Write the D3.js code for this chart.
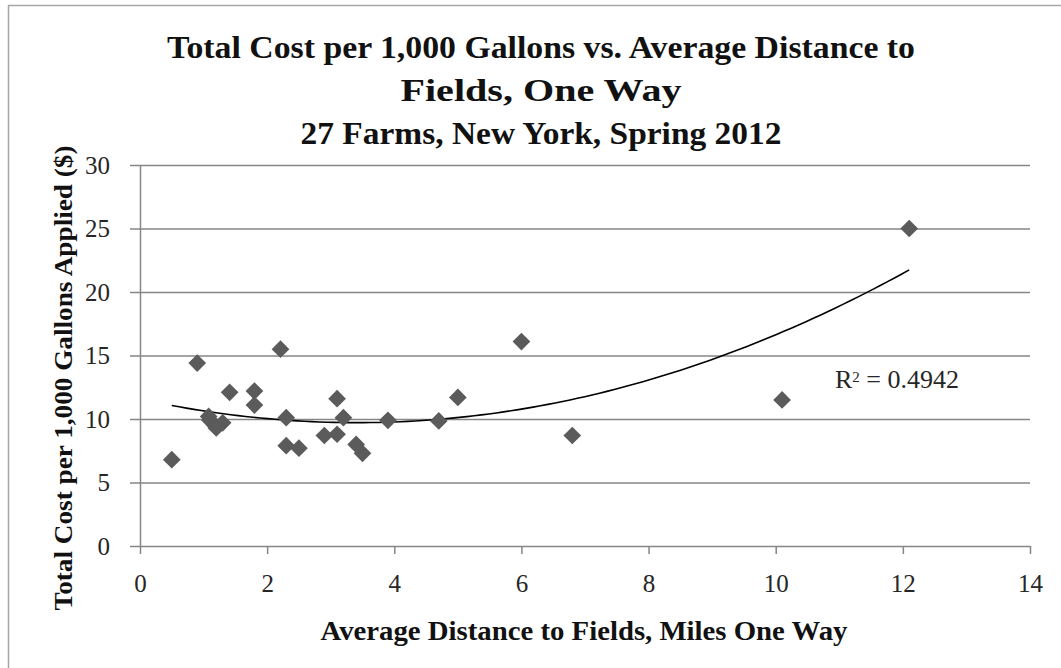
<!DOCTYPE html>
<html>
<head>
<meta charset="utf-8">
<script src="https://cdn.jsdelivr.net/npm/d3@7"></script>
<style>
  body { margin: 0; background: #fff; }
  svg { display: block; }
</style>
</head>
<body>
<div id="chart"></div>
<script>
(function() {
    const width = 1061;
    const height = 668;
    const margin = { top: 165, right: 31, bottom: 122, left: 140 };

    // Distance (miles one way) and cost per 1,000 gallons
    const distance = [0.5, 0.9, 1.08, 1.1, 1.18, 1.2, 1.3, 1.41, 1.8, 1.8, 2.21, 2.3, 2.3, 2.5, 2.9, 3.1, 3.1, 3.2, 3.4, 3.5, 3.9, 4.7, 5.0, 6.0, 6.8, 10.1, 12.1];
    const cost     = [6.8, 14.4, 10.2, 9.9, 9.5, 9.3, 9.7, 12.1, 12.2, 11.1, 15.5, 10.1, 7.9, 7.7, 8.7, 11.6, 8.8, 10.1, 8.0, 7.3, 9.9, 9.85, 11.7, 16.1, 8.7, 11.5, 25.0];

    const xTicks = [0, 2, 4, 6, 8, 10, 12, 14];
    const yTicks = [0, 5, 10, 15, 20, 25, 30];
    const titleLines = [
        "Total Cost per 1,000 Gallons vs. Average Distance to",
        "Fields, One Way",
        "27 Farms, New York, Spring 2012"
    ];
    const xLabel = "Average Distance to Fields, Miles One Way";
    const yLabel = "Total Cost per 1,000 Gallons Applied ($)";
    const rSquared = "0.4942";

    const points = distance.map((d, i) => ({ x: d, y: cost[i] }));
    const serif = "'Liberation Serif', 'DejaVu Serif', serif";

    const svg = d3.select("#chart").append("svg")
        .attr("width", width).attr("height", height);

    // outer frame (cut off on the right/bottom in the original)
    svg.append("rect")
        .attr("x", 8.5).attr("y", 5.5)
        .attr("width", width + 20).attr("height", height + 20)
        .attr("fill", "none").attr("stroke", "#a6a6a6").attr("stroke-width", 1.5);

    const plotW = width - margin.left - margin.right;
    const plotH = height - margin.top - margin.bottom;

    const x = d3.scaleLinear().domain([0, 14]).range([margin.left, margin.left + plotW]);
    const y = d3.scaleLinear().domain([0, 30]).range([margin.top + plotH, margin.top]);

    // gridlines + y ticks
    const yAxis = svg.append("g")
        .attr("transform", `translate(${margin.left},0)`)
        .call(d3.axisLeft(y).tickValues(yTicks).tickSize(10).tickPadding(20).tickSizeOuter(0));
    yAxis.select(".domain").attr("stroke", "#868686").attr("stroke-width", 1.5);
    yAxis.selectAll(".tick line").attr("stroke", "#868686").attr("stroke-width", 1.5);
    yAxis.selectAll(".tick").append("line")
        .attr("x1", 0).attr("x2", plotW)
        .attr("stroke", "#868686").attr("stroke-width", 1.5);
    yAxis.selectAll(".tick text")
        .attr("font-family", serif)
        .attr("font-size", "25px").attr("fill", "#262626");

    const xAxis = svg.append("g")
        .attr("transform", `translate(0,${margin.top + plotH})`)
        .call(d3.axisBottom(x).tickValues(xTicks).tickSize(8).tickPadding(20).tickSizeOuter(0));
    xAxis.select(".domain").remove();
    xAxis.selectAll(".tick line").attr("stroke", "#868686").attr("stroke-width", 1.5);
    xAxis.selectAll(".tick text")
        .attr("font-family", serif)
        .attr("font-size", "25px").attr("fill", "#262626");

    // quadratic least-squares trendline computed from the points
    const n = points.length;
    const s = k => d3.sum(points, p => Math.pow(p.x, k));
    const sy = k => d3.sum(points, p => Math.pow(p.x, k) * p.y);
    const A = [[n, s(1), s(2)], [s(1), s(2), s(3)], [s(2), s(3), s(4)]];
    const B = [sy(0), sy(1), sy(2)];
    function solve3(M, v) {
        const m = M.map((r, i) => r.concat([v[i]]));
        for (let c = 0; c < 3; c++) {
            for (let r = c + 1; r < 3; r++) {
                const f = m[r][c] / m[c][c];
                for (let k = c; k < 4; k++) m[r][k] -= f * m[c][k];
            }
        }
        const out = [0, 0, 0];
        for (let r = 2; r >= 0; r--) {
            let acc = m[r][3];
            for (let k = r + 1; k < 3; k++) acc -= m[r][k] * out[k];
            out[r] = acc / m[r][r];
        }
        return out;
    }
    const coef = solve3(A, B);
    const xMin = d3.min(distance), xMax = d3.max(distance);
    const trend = d3.range(0, 101).map(i => {
        const xv = xMin + (xMax - xMin) * i / 100;
        return { x: xv, y: coef[0] + coef[1] * xv + coef[2] * xv * xv };
    });

    svg.append("path")
        .datum(trend)
        .attr("fill", "none").attr("stroke", "#000").attr("stroke-width", 1.6)
        .attr("d", d3.line().x(d => x(d.x)).y(d => y(d.y)));

    // diamonds
    svg.selectAll(".dot")
        .data(points)
        .join("path")
        .attr("class", "dot")
        .attr("transform", d => `translate(${x(d.x)},${y(d.y)})`)
        .attr("d", d3.symbol(d3.symbolDiamond2, 200)())
        .attr("fill", "#5b5b5b");

    svg.append("text")
        .attr("x", 835).attr("y", 388)
        .attr("font-family", serif)
        .attr("font-size", "26px").attr("fill", "#262626")
        .html(`R<tspan dy="-6" font-size="15px">2</tspan><tspan dy="6"> = ${rSquared}</tspan>`);

    // title
    const titleWidths = [748, 281, 481];
    svg.append("g").selectAll("text")
        .data(titleLines)
        .join("text")
        .attr("x", 541).attr("y", (d, i) => 58 + i * 43)
        .attr("text-anchor", "middle")
        .attr("font-family", serif)
        .attr("font-weight", "bold")
        .attr("font-size", "31px").attr("fill", "#111")
        .attr("textLength", (d, i) => titleWidths[i])
        .attr("lengthAdjust", "spacingAndGlyphs")
        .text(d => d);

    svg.append("text")
        .attr("x", 584).attr("y", 640)
        .attr("text-anchor", "middle")
        .attr("font-family", serif)
        .attr("font-weight", "bold")
        .attr("font-size", "27px").attr("fill", "#111")
        .attr("textLength", 527).attr("lengthAdjust", "spacingAndGlyphs")
        .text(xLabel);

    svg.append("text")
        .attr("transform", "translate(72,378) rotate(-90)")
        .attr("text-anchor", "middle")
        .attr("font-family", serif)
        .attr("font-weight", "bold")
        .attr("font-size", "26px").attr("fill", "#111")
        .attr("textLength", 465).attr("lengthAdjust", "spacingAndGlyphs")
        .text(yLabel);
})();
</script>
</body>
</html>
